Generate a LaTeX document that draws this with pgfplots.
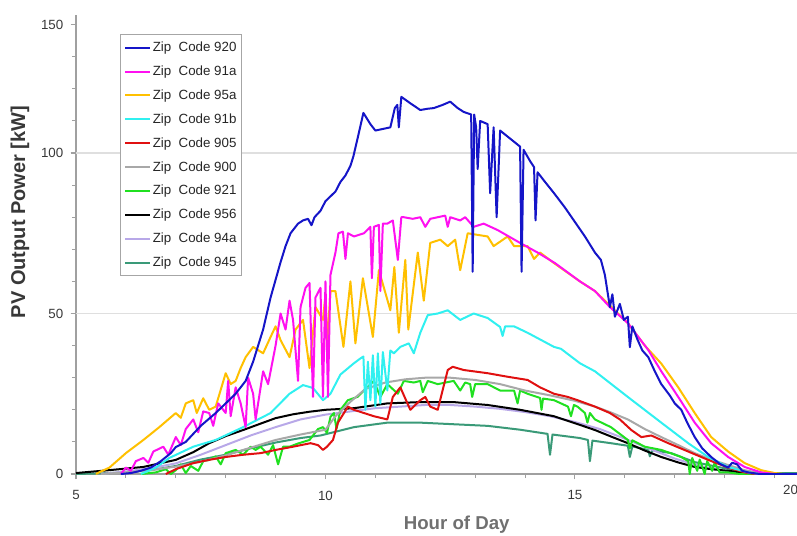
\documentclass[border=0pt]{standalone}
\usepackage{pgfplots}
\pgfplotsset{compat=1.18}
\usepackage{fontspec}
\setmainfont{Liberation Sans}
\definecolor{c920}{HTML}{1515C8}
\definecolor{c91a}{HTML}{FF10F0}
\definecolor{c95a}{HTML}{FFC000}
\definecolor{c91b}{HTML}{30F0F0}
\definecolor{c905}{HTML}{E01010}
\definecolor{c900}{HTML}{A8A8A8}
\definecolor{c921}{HTML}{20E020}
\definecolor{c956}{HTML}{000000}
\definecolor{c94a}{HTML}{B8A8E8}
\definecolor{c945}{HTML}{3A9A78}
\definecolor{axgray}{HTML}{A0A0A0}
\definecolor{txtgray}{HTML}{383838}
\definecolor{labgray}{HTML}{707070}
\begin{document}
\begin{tikzpicture}
\begin{axis}[
  width=540.75pt, height=344.25pt, scale only axis,
  xmin=5, xmax=19.45, ymin=0, ymax=143,
  axis x line*=bottom, axis y line*=left,
  axis line style={draw=axgray, line width=1pt},
  every tick/.style={draw=axgray, line width=0.8pt},
  tick align=outside,
  major tick length=4pt, minor tick length=3pt,
  xtick={5,10,15}, minor xtick={6,7,8,9,11,12,13,14,16,17,18,19},
  extra x ticks={19.32}, extra x tick labels={20},
  extra x tick style={major tick length=0pt},
  ytick={0,50,100,140}, yticklabels={0,50,100,150},
  minor ytick={10,20,30,40,60,70,80,90,110,120,130},
  extra y ticks={50,100}, extra y tick labels={},
  extra y tick style={grid=major, major grid style={draw=gray!25, line width=0.8pt}},
  /pgf/number format/assume math mode=true,
  tick label style={font=\fontsize{10}{12}\selectfont, text=txtgray},
  xticklabel style={yshift=-5pt},
  yticklabel style={xshift=-2pt},
  xlabel={Hour of Day},
  ylabel={PV Output Power [kW]},
  xlabel style={at={(axis description cs:0.528,-0.111)}, anchor=center,
     font=\fontsize{14}{16}\selectfont\bfseries, text=labgray},
  ylabel style={at={(axis description cs:-0.0777,0.571)}, anchor=center,
     font=\fontsize{15}{17}\selectfont\bfseries, text=txtgray},
  every axis plot/.append style={line width=1.5pt, line join=round, mark=none},
  legend style={at={(axis description cs:0.061,0.9586)}, anchor=north west,
     draw=gray!70, line width=0.6pt, fill=white,
     font=\fontsize{10}{12}\selectfont, text=black!85,
     nodes={inner sep=1pt, text height=8pt, text depth=2pt},
     row sep=5.9pt, inner xsep=3pt, inner ysep=4pt},
  legend cell align=left,
  legend image code/.code={\draw[#1, line width=1.5pt] (0cm,0cm) -- (0.66cm,0cm);},
  reverse legend,
]
% 945
\addplot[c945] coordinates {(5.0,0) (5.5,0.2) (6.0,0.5) (6.5,1.2) (7.0,2.5) (7.5,4.5) (8.0,6) (8.5,8) (9.0,9.8) (9.5,11.2) (9.9,12) (10.57,14.6) (11.24,16) (11.9,16) (12.57,15.5) (13.25,15) (13.9,13.8) (14.45,12.5) (14.5,6) (14.55,12.3) (15.1,11.2) (15.26,10.6) (15.3,4) (15.35,10.4) (15.72,9.6) (16.06,8.8) (16.1,5.3) (16.15,8.6) (16.47,7.5) (16.5,5.5) (16.55,7.4) (16.93,6.5) (17.4,3.7) (17.93,2) (18.47,0.5) (19.0,0.3) (19.45,0.3)};
% 94a
\addplot[c94a] coordinates {(5.5,0) (6,0.8) (6.5,1.8) (7,3.3) (7.5,6) (8,9) (8.5,12) (9,14.6) (9.5,17) (10,18.5) (10.5,19.5) (11,20.5) (11.5,21) (12,21.5) (12.5,21.5) (13,21) (13.5,20.3) (14,19.3) (14.5,18) (15,16.2) (15.5,14) (16,11) (16.5,7.8) (17,4.8) (17.5,2.5) (18,1) (18.5,0.2) (18.8,0)};
% 956
\addplot[c956] coordinates {(5.0,0.3) (5.67,1.2) (6.35,2.2) (7.0,4.4) (7.35,6.8) (7.67,9.6) (8.0,11.8) (8.35,13.7) (8.7,15.7) (9.0,17.4) (9.35,18.6) (9.68,19.4) (10.0,20) (10.57,20.5) (11.24,22) (11.9,22.4) (12.57,22.4) (13.25,21.5) (13.9,20) (14.58,18) (15.1,15.3) (15.4,13.7) (15.75,11.5) (16.06,9.6) (16.4,7.3) (16.73,5.3) (17.07,3.6) (17.4,2.2) (17.73,1.5) (18.07,1) (18.5,0.2) (18.8,0) (19.45,0)};
% 921
\addplot[c921] coordinates {(6.3,0) (6.6,0.5) (6.8,1.5) (6.9,0) (7.0,1.2) (7.1,3) (7.2,0.3) (7.3,2.5) (7.45,1) (7.55,4) (7.67,4.4) (7.8,5.5) (7.9,3) (8.0,6.5) (8.2,7.5) (8.35,6) (8.5,8.5) (8.6,7.5) (8.7,8.5) (8.85,6) (8.95,9) (9.05,3) (9.15,8.5) (9.28,8.5) (9.45,9.5) (9.68,10.6) (9.85,14) (9.95,14.6) (10.03,12.8) (10.1,17.8) (10.17,19) (10.22,14) (10.3,20) (10.45,23) (10.64,24) (10.84,27) (10.97,29) (11.1,24) (11.24,28) (11.45,25) (11.57,29) (11.77,28.5) (11.9,29) (11.95,25.5) (12.05,29) (12.25,28) (12.57,29) (12.7,26) (12.8,28.5) (12.9,28) (12.94,24) (13.0,28) (13.25,28) (13.5,26) (13.78,26) (13.85,22) (13.9,26) (14.05,25) (14.3,23.7) (14.33,20) (14.36,23.5) (14.58,23) (14.86,21) (14.92,18) (14.98,21.5) (15.05,21) (15.2,19) (15.25,16) (15.3,19) (15.4,17) (15.72,14.6) (16.06,10.6) (16.1,8) (16.15,10.5) (16.4,8.5) (16.73,7.5) (17.13,5.3) (17.27,4) (17.3,0) (17.35,5) (17.45,1) (17.5,4.5) (17.6,0) (17.65,4) (17.75,1) (17.8,3.5) (17.9,0.5) (18.07,0.5) (18.3,0) (19.45,0)};
% 900
\addplot[c900] coordinates {(5.5,0) (6.0,0.5) (6.5,1.2) (7.0,2.3) (7.5,3.8) (8.0,5.8) (8.5,8.2) (9.0,10.6) (9.5,12.3) (10.0,13.8) (10.2,18) (10.5,22.5) (10.8,26.5) (11.2,28.5) (11.6,29.5) (12.0,30) (12.5,30) (13.0,29.3) (13.5,28) (14.0,26) (14.5,24.5) (15.0,22.8) (15.4,21) (15.7,19.3) (16.06,17) (16.4,14) (16.73,11.5) (17.07,9) (17.4,6.5) (17.73,4.5) (18.07,2.8) (18.4,1.2) (18.7,0.3) (19.0,0) (19.45,0)};
% 905
\addplot[c905] coordinates {(6.8,0) (7.0,1.5) (7.35,3.4) (7.7,4.5) (8.0,5.3) (8.35,6) (8.7,6.5) (9.0,7.5) (9.35,8.5) (9.7,9.6) (9.85,9) (9.95,7.5) (10.03,8.5) (10.15,10.6) (10.25,16) (10.45,21) (10.57,20) (10.77,19) (10.97,18) (11.24,17) (11.35,24) (11.5,27) (11.7,20) (11.9,23) (12.0,24) (12.1,21) (12.25,20) (12.45,32.4) (12.55,33.4) (12.77,32.4) (13.25,31.4) (13.65,30.3) (14.05,29.3) (14.3,27) (14.58,25) (14.86,24) (15.05,23) (15.4,21) (15.7,19) (15.9,17) (16.13,13.7) (16.33,11.5) (16.53,12) (16.87,9.6) (17.27,7) (17.67,4.4) (18.07,2) (18.4,0.5) (18.6,0) (19.45,0)};
% 91b
\addplot[c91b] coordinates {(6.3,0) (6.6,2) (6.87,5) (7.35,8.5) (7.8,10.6) (8.35,14.6) (8.9,19) (9.28,25) (9.55,27.7) (9.75,26.8) (9.95,23) (10.1,25) (10.3,31) (10.57,34.5) (10.7,36) (10.76,36.6) (10.8,20) (10.85,35) (10.9,23) (10.95,37) (11.0,21) (11.05,37.6) (11.1,22) (11.15,38) (11.24,26) (11.3,38.5) (11.37,37.6) (11.5,39.6) (11.67,40.7) (11.77,37.6) (11.9,44) (12.05,49.5) (12.25,50) (12.45,51) (12.7,48) (12.97,50) (13.25,48.6) (13.5,45.8) (13.55,43) (13.6,46) (13.78,46) (14.05,44) (14.58,39.6) (14.72,39) (15.1,34.5) (15.4,32) (16.06,24) (16.73,16) (17.27,9.6) (17.67,5.3) (18.07,2.2) (18.47,0.5) (18.7,0) (19.45,0)};
% 95a
\addplot[c95a] coordinates {(5.4,0) (5.46,0.5) (5.67,2) (6.0,6.5) (6.35,10.6) (6.67,14.6) (7.0,19) (7.1,17.5) (7.2,22) (7.35,23) (7.42,19) (7.55,23.6) (7.67,20) (7.8,21) (8.0,31.4) (8.1,28) (8.2,29) (8.3,33) (8.4,36.4) (8.55,39.6) (8.75,37.6) (8.9,42.7) (9.0,46) (9.1,41.7) (9.28,36.4) (9.4,45) (9.55,48) (9.68,33) (9.8,52) (9.95,48) (10.0,56) (10.03,39.6) (10.1,57) (10.2,57) (10.36,39.6) (10.5,60) (10.6,40.7) (10.75,61) (10.95,42.7) (11.07,63.5) (11.3,51) (11.38,64.5) (11.47,44) (11.6,66.7) (11.66,45) (11.85,69) (11.97,54) (12.1,72) (12.3,73) (12.45,71) (12.6,73) (12.7,63.5) (12.85,75) (13.05,74.5) (13.25,74) (13.37,71) (13.65,74) (13.78,71) (14.05,71) (14.18,67) (14.3,69) (14.58,65.7) (15.1,60) (15.4,57) (15.7,52.5) (16.06,47) (16.4,40) (16.73,34.4) (17.07,27) (17.4,19) (17.73,11.5) (18.07,7) (18.4,3.4) (18.73,1.2) (19.0,0.3) (19.2,0) (19.45,0)};
% 91a
\addplot[c91a] coordinates {(5.9,0) (6.0,2) (6.1,1) (6.2,4) (6.35,5) (6.45,3.5) (6.55,7) (6.75,8.5) (6.85,6) (7.0,11.5) (7.1,9) (7.2,14) (7.35,17) (7.45,13) (7.55,19.5) (7.67,19) (7.75,15) (7.85,22) (8.0,19) (8.05,29) (8.1,18) (8.2,27) (8.3,22) (8.4,14.6) (8.45,30) (8.55,25) (8.6,17) (8.75,32) (8.85,28) (9.0,40) (9.1,50) (9.2,45) (9.28,54) (9.35,48) (9.45,29) (9.5,52) (9.6,58) (9.68,59.5) (9.75,24) (9.8,55) (9.9,58) (9.95,24) (10.0,60) (10.05,24) (10.1,62) (10.2,69) (10.26,75) (10.35,75.5) (10.4,67) (10.45,75) (10.57,74) (10.77,75) (10.9,77) (10.93,61) (10.97,77) (11.07,77.6) (11.1,57) (11.15,78) (11.24,78) (11.35,79) (11.45,66.7) (11.52,80) (11.57,80) (11.75,79.5) (11.9,80) (12.0,77) (12.1,79.5) (12.25,80) (12.4,80.5) (12.45,77) (12.5,80) (12.7,79) (12.8,80) (12.97,77) (13.17,78) (13.45,76) (13.9,72) (14.25,69) (14.6,65.7) (15.1,60) (15.4,57) (15.7,52) (16.06,47) (16.47,38.6) (16.73,32) (17.07,24) (17.4,16) (17.73,9.6) (18.07,5.3) (18.4,2.2) (18.73,0.5) (19.0,0) (19.45,0)};
% 920
\addplot[c920] coordinates {(5.9,0) (6.1,0.3) (6.3,1) (6.5,2) (6.7,4) (6.9,6.5) (7.0,8.4) (7.2,10) (7.35,12.5) (7.5,15) (7.65,17) (7.8,19) (8.0,22) (8.2,25) (8.4,29) (8.55,35) (8.75,45) (8.9,55) (9.1,66) (9.2,71) (9.3,75) (9.45,78) (9.55,79) (9.65,79.5) (9.72,77.5) (9.78,80) (9.9,82) (10.0,85) (10.2,88) (10.3,91) (10.4,93) (10.5,96) (10.56,99) (10.65,105) (10.76,112.5) (10.9,109) (11.0,107) (11.15,107.5) (11.3,108) (11.39,114) (11.44,115) (11.47,108) (11.52,117.5) (11.7,115.5) (11.9,113.4) (12.05,113.8) (12.17,114) (12.35,115) (12.5,116) (12.65,114) (12.77,112.8) (12.92,112) (12.95,63) (12.98,112) (13.02,108) (13.05,95) (13.1,110) (13.25,109) (13.3,87.5) (13.37,108) (13.43,80) (13.5,107) (13.7,104.5) (13.9,102) (13.93,63) (13.97,101) (14.1,97.5) (14.18,95.6) (14.21,79) (14.25,94) (14.4,91) (14.58,87.5) (14.8,83) (15.0,78.5) (15.2,74) (15.4,69) (15.52,66.7) (15.6,62) (15.65,57) (15.7,52) (15.75,56) (15.8,49) (15.9,53) (15.98,48) (16.06,49) (16.1,39.5) (16.15,46) (16.25,42) (16.35,38.5) (16.47,36.4) (16.6,32) (16.73,28) (16.9,24.5) (17.0,22) (17.13,20) (17.25,16) (17.4,11.5) (17.55,8) (17.73,5.3) (17.9,3.2) (18.07,2) (18.15,3.5) (18.25,3) (18.35,1) (18.47,0.5) (18.7,0) (19.45,0)};
\legend{Zip\ \ Code 945, Zip\ \ Code 94a, Zip\ \ Code 956, Zip\ \ Code 921, Zip\ \ Code 900, Zip\ \ Code 905, Zip\ \ Code 91b, Zip\ \ Code 95a, Zip\ \ Code 91a, Zip\ \ Code 920}
\end{axis}
\pgfresetboundingbox
\path[use as bounding box] ([xshift=-57pt,yshift=-46.5pt]current axis.south west) rectangle ([yshift=11.25pt]current axis.north east);
\end{tikzpicture}
\end{document}
